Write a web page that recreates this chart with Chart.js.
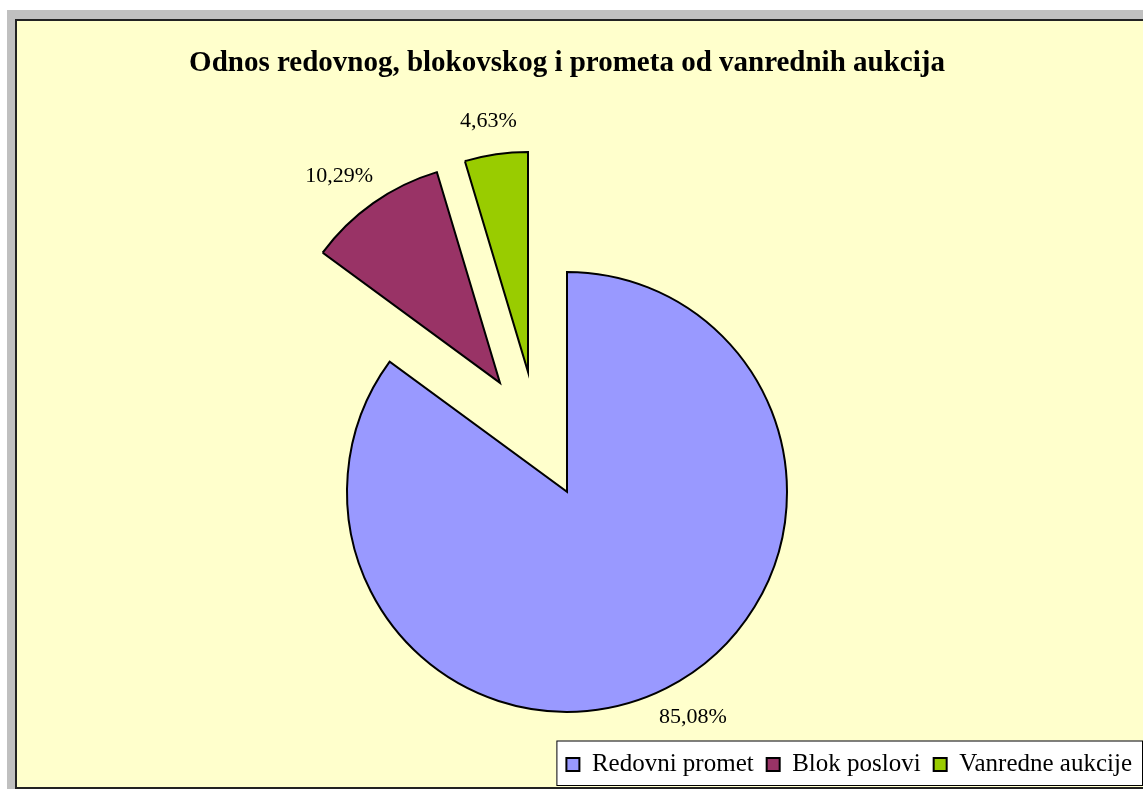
<!DOCTYPE html>
<html>
<head>
<meta charset="utf-8">
<script src="https://cdn.jsdelivr.net/npm/chart.js@4.4.0/dist/chart.umd.min.js"></script>
<style>
    html, body { margin: 0; padding: 0; background: #fff; overflow: hidden; width: 1143px; height: 789px; }
    #frame { position: absolute; left: 7px; top: 10px; width: 1200px; height: 800px; background: #c0c0c0; }
    #area {
        position: absolute; left: 15px; top: 19px; width: 1200px; height: 766px;
        background: #ffffcc; border-left: 2px solid #222; border-top: 2px solid #222; border-bottom: 2px solid #222;
    }
    #chartShares { position: absolute; left: -11px; top: 21px; }
</style>
</head>
<body>
<div id="frame"></div>
<div id="area"></div>
<canvas id="chartShares" width="1156" height="766"></canvas>
<script>
const categories = ['Redovni promet', 'Blok poslovi', 'Vanredne aukcije'];
const shares = [85.08, 10.29, 4.63];
const sliceColors = ['#9999FF', '#993366', '#99CC00'];

// how far each slice is pulled out of the pie (px)
const explode = [[0, 0], [-67, -109], [-39, -120]];

const serif = "'Liberation Serif', 'Times New Roman', serif";

// move the exploded slices by wrapping the arc's own draw
const explodePlugin = {
    id: 'explode',
    afterDatasetUpdate(chart, args) {
        args.meta.data.forEach((arc, i) => {
            if (arc._exploded) return;
            const draw = arc.draw;
            arc.draw = function (ctx) {
                ctx.save();
                ctx.translate(explode[i][0], explode[i][1]);
                draw.apply(this, arguments);
                ctx.restore();
            };
            arc._exploded = true;
        });
    }
};

// percentage labels outside each slice
const labelPlugin = {
    id: 'sliceLabels',
    afterDatasetsDraw(chart) {
        const ctx = chart.ctx;
        const meta = chart.getDatasetMeta(0);
        ctx.save();
        ctx.font = '22px ' + serif;
        ctx.fillStyle = '#000';
        ctx.textAlign = 'center';
        ctx.textBaseline = 'middle';
        meta.data.forEach((arc, i) => {
            const p = arc.getProps(['x', 'y', 'startAngle', 'endAngle', 'outerRadius'], true);
            const mid = (p.startAngle + p.endAngle) / 2;
            const dx = Math.cos(mid), dy = Math.sin(mid);
            const text = shares[i].toFixed(2).replace('.', ',') + '%';
            const w = ctx.measureText(text).width;
            const r = p.outerRadius + 25;
            const x = p.x + explode[i][0] + dx * r + dx * w / 2;
            const y = p.y + explode[i][1] + dy * r + dy * 8;
            ctx.fillText(text, x, y);
        });
        ctx.restore();
    }
};

// white legend box with a thin border
const legendBoxPlugin = {
    id: 'legendBox',
    beforeDraw(chart) {
        const legend = chart.legend;
        if (!legend || !legend.legendHitBoxes.length) return;
        const ctx = chart.ctx;
        const left = legend.legendHitBoxes[0].left - 10;
        const top = legend.top + 1.5;
        const right = legend.right - 3;
        const bottom = legend.bottom - 2;
        ctx.save();
        ctx.fillStyle = '#ffffff';
        ctx.fillRect(left, top, right - left, bottom - top);
        ctx.strokeStyle = '#000';
        ctx.lineWidth = 1;
        ctx.strokeRect(left + 0.5, top + 0.5, right - left, bottom - top);
        ctx.restore();
    }
};

const ctx = document.getElementById('chartShares').getContext('2d');
const chartShares = new Chart(ctx, {
    type: 'pie',
    data: {
        labels: categories,
        datasets: [{
            data: shares,
            backgroundColor: sliceColors,
            borderColor: '#000',
            borderWidth: 2,
            borderJoinStyle: 'miter',
            radius: 220,
            clip: false
        }]
    },
    options: {
        responsive: false,
        animation: false,
        events: [],
        layout: { padding: 0 },
        plugins: {
            title: {
                display: true,
                text: 'Odnos redovnog, blokovskog i prometa od vanrednih aukcija',
                color: '#000',
                font: { family: serif, size: 29, weight: 'bold', lineHeight: 1.2 },
                padding: { top: 25, bottom: 164 }
            },
            legend: {
                display: true,
                position: 'bottom',
                align: 'end',
                labels: {
                    color: '#000',
                    font: { family: serif, size: 25 },
                    boxWidth: 13,
                    boxHeight: 13,
                    padding: 13
                }
            },
            tooltip: { enabled: false }
        }
    },
    plugins: [explodePlugin, labelPlugin, legendBoxPlugin]
});
</script>
</body>
</html>
